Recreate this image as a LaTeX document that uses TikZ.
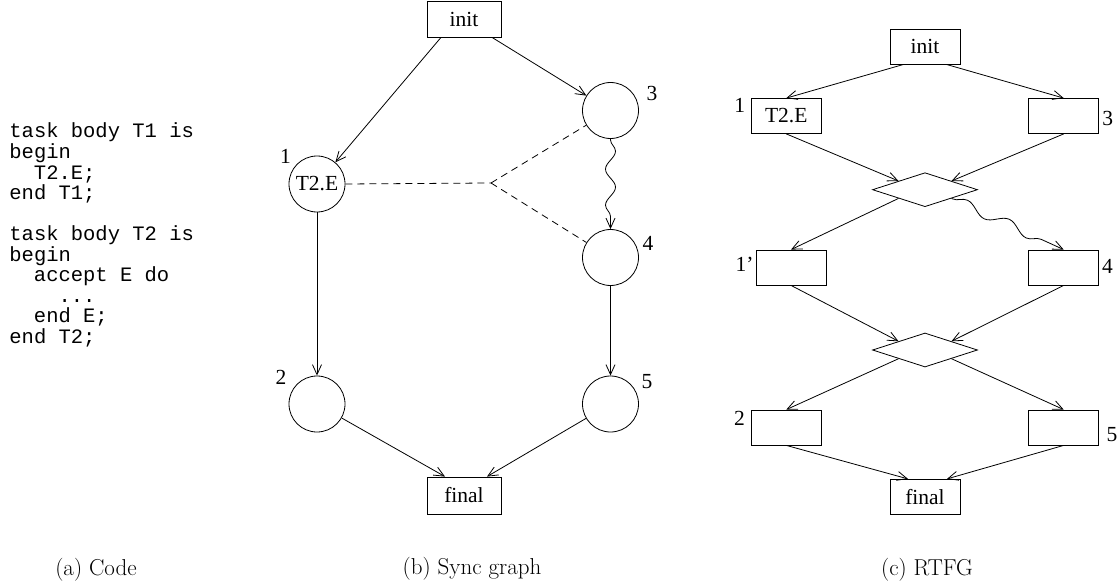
\documentclass[tikz,border=0pt]{standalone}
\usepackage{fontspec}
\newfontfamily\timesfont{Liberation Serif}
\newfontfamily\codefont{Liberation Mono}
\usetikzlibrary{arrows.meta,shapes.geometric,decorations.pathmorphing,calc}
\begin{document}
\begin{tikzpicture}[x=1pt,y=-1pt,
  line width=0.8pt,
  lbl/.style={font=\timesfont\fontsize{21.5}{24}\selectfont, inner sep=0pt},
  codeline/.style={font=\codefont\fontsize{20.5}{20.5}\selectfont, inner sep=0pt, anchor=base west},
  capt/.style={font=\fontsize{23}{27}\selectfont, inner sep=0pt, anchor=base},
  boxnode/.style={draw, rectangle, minimum width=70pt, minimum height=35pt, inner sep=0pt, font=\timesfont\fontsize{21.5}{24}\selectfont},
  circnode/.style={draw, circle, minimum size=56pt, inner sep=0pt, font=\timesfont\fontsize{21.5}{24}\selectfont},
  dmd/.style={draw, diamond, minimum width=105pt, minimum height=34pt, inner sep=0pt, aspect=3},
  arr/.style={-{Straight Barb[length=10pt,width=9pt]}},
  wavy/.style={arr, decorate, decoration={snake, amplitude=5pt, segment length=#1, pre length=1pt, post length=10pt}},
  dsh/.style={dash pattern=on 7pt off 5pt}
]
\useasboundingbox (0,0) rectangle (1117,583);

% ---------- (a) Code ----------
\node[codeline] (l1) at (9,138) {task body T1 is};
\node[codeline] (l2) at (9,158.5) {begin};
\node[codeline] (l3) at (33.6,179) {T2.E;};
\node[codeline] (l4) at (9,199.5) {end T1;};
\node[codeline] (l5) at (9,240.5) {task body T2 is};
\node[codeline] (l6) at (9,261) {begin};
\node[codeline] (l7) at (33.6,281.5) {accept E do};
\node[codeline] (l8) at (58.2,302) {...};
\node[codeline] (l9) at (33.6,322.5) {end E;};
\node[codeline] (l10) at (9,343) {end T2;};

% ---------- (b) Sync graph ----------
\node[boxnode, minimum width=74pt, minimum height=36pt] (binit) at (464,19) {init};
\node[circnode] (b1) at (317,184) {T2.E};
\node[circnode] (b2) at (317,404) {};
\node[circnode] (b3) at (610.5,110.5) {};
\node[circnode] (b4) at (610.5,257.5) {};
\node[circnode] (b5) at (610.5,404) {};
\node[boxnode, minimum width=74pt, minimum height=37pt] (bfinal) at (464,495.5) {final};
\coordinate (bj) at (491,183);

\node[lbl] (bl1) at (285.5,156) {1};
\node[lbl] (bl2) at (281,377) {2};
\node[lbl] (bl3) at (652,93.5) {3};
\node[lbl] (bl4) at (648,243) {4};
\node[lbl] (bl5) at (647,382) {5};

\draw[arr] ([xshift=-23pt]binit.south) -- (b1);
\draw[arr] ([xshift=28pt]binit.south) -- (b3);
\draw[arr] (b1) -- (b2);
\draw[arr] (b4) -- (b5);
\draw[wavy=36pt] (b3) -- (b4);
\draw[arr] (b2) -- ([xshift=-19pt]bfinal.north);
\draw[arr] (b5) -- ([xshift=23pt]bfinal.north);
\draw[dsh] (b1.east) -- (bj);
\draw[dsh] (bj) -- (b3);
\draw[dsh] (bj) -- (b4);

% ---------- (c) RTFG ----------
\node[boxnode] (cinit) at (925,46.7) {init};
\node[boxnode] (c1) at (786.3,116) {T2.E};
\node[boxnode] (c3) at (1063.7,116) {};
\node[dmd] (d1) at (925,189.7) {};
\node[boxnode] (c1p) at (791,267.5) {};
\node[boxnode] (c4) at (1063.7,267.5) {};
\node[dmd] (d2) at (925,350) {};
\node[boxnode] (c2) at (786.3,427.5) {};
\node[boxnode] (c5) at (1063.7,427.5) {};
\node[boxnode] (cfinal) at (925,496.8) {final};

\node[lbl] (cl1) at (739.7,105.5) {1};
\node[lbl] (cl3) at (1107.7,118.3) {3};
\node[lbl] (cl1p) at (744.5,264.5) {1’};
\node[lbl] (cl4) at (1107.5,266.7) {4};
\node[lbl] (cl2) at (739.5,418) {2};
\node[lbl] (cl5) at (1112,435) {5};

\draw[arr] ([xshift=-22pt]cinit.south) -- (c1.north);
\draw[arr] ([xshift=22pt]cinit.south) -- (c3.north);
\draw[arr] (c1.south) -- ($(d1.north)!0.5!(d1.west)$);
\draw[arr] (c3.south) -- ($(d1.north)!0.5!(d1.east)$);
\draw[arr] ($(d1.south)!0.5!(d1.west)$) -- (c1p.north);
\draw[wavy=46pt] ($(d1.south)!0.5!(d1.east)$) -- (c4.north);
\draw[arr] (c1p.south) -- ($(d2.north)!0.5!(d2.west)$);
\draw[arr] (c4.south) -- ($(d2.north)!0.5!(d2.east)$);
\draw[arr] ($(d2.south)!0.5!(d2.west)$) -- (c2.north);
\draw[arr] ($(d2.south)!0.5!(d2.east)$) -- (c5.north);
\draw[arr] (c2.south) -- ([xshift=-17pt]cfinal.north);
\draw[arr] (c5.south) -- ([xshift=22pt]cfinal.north);

% ---------- captions ----------
\node[capt] (capa) at (96,575) {(a) Code};
\node[capt] (capb) at (472,574) {(b) Sync graph};
\node[capt] (capc) at (927,575) {(c) RTFG};
\end{tikzpicture}
\end{document}
